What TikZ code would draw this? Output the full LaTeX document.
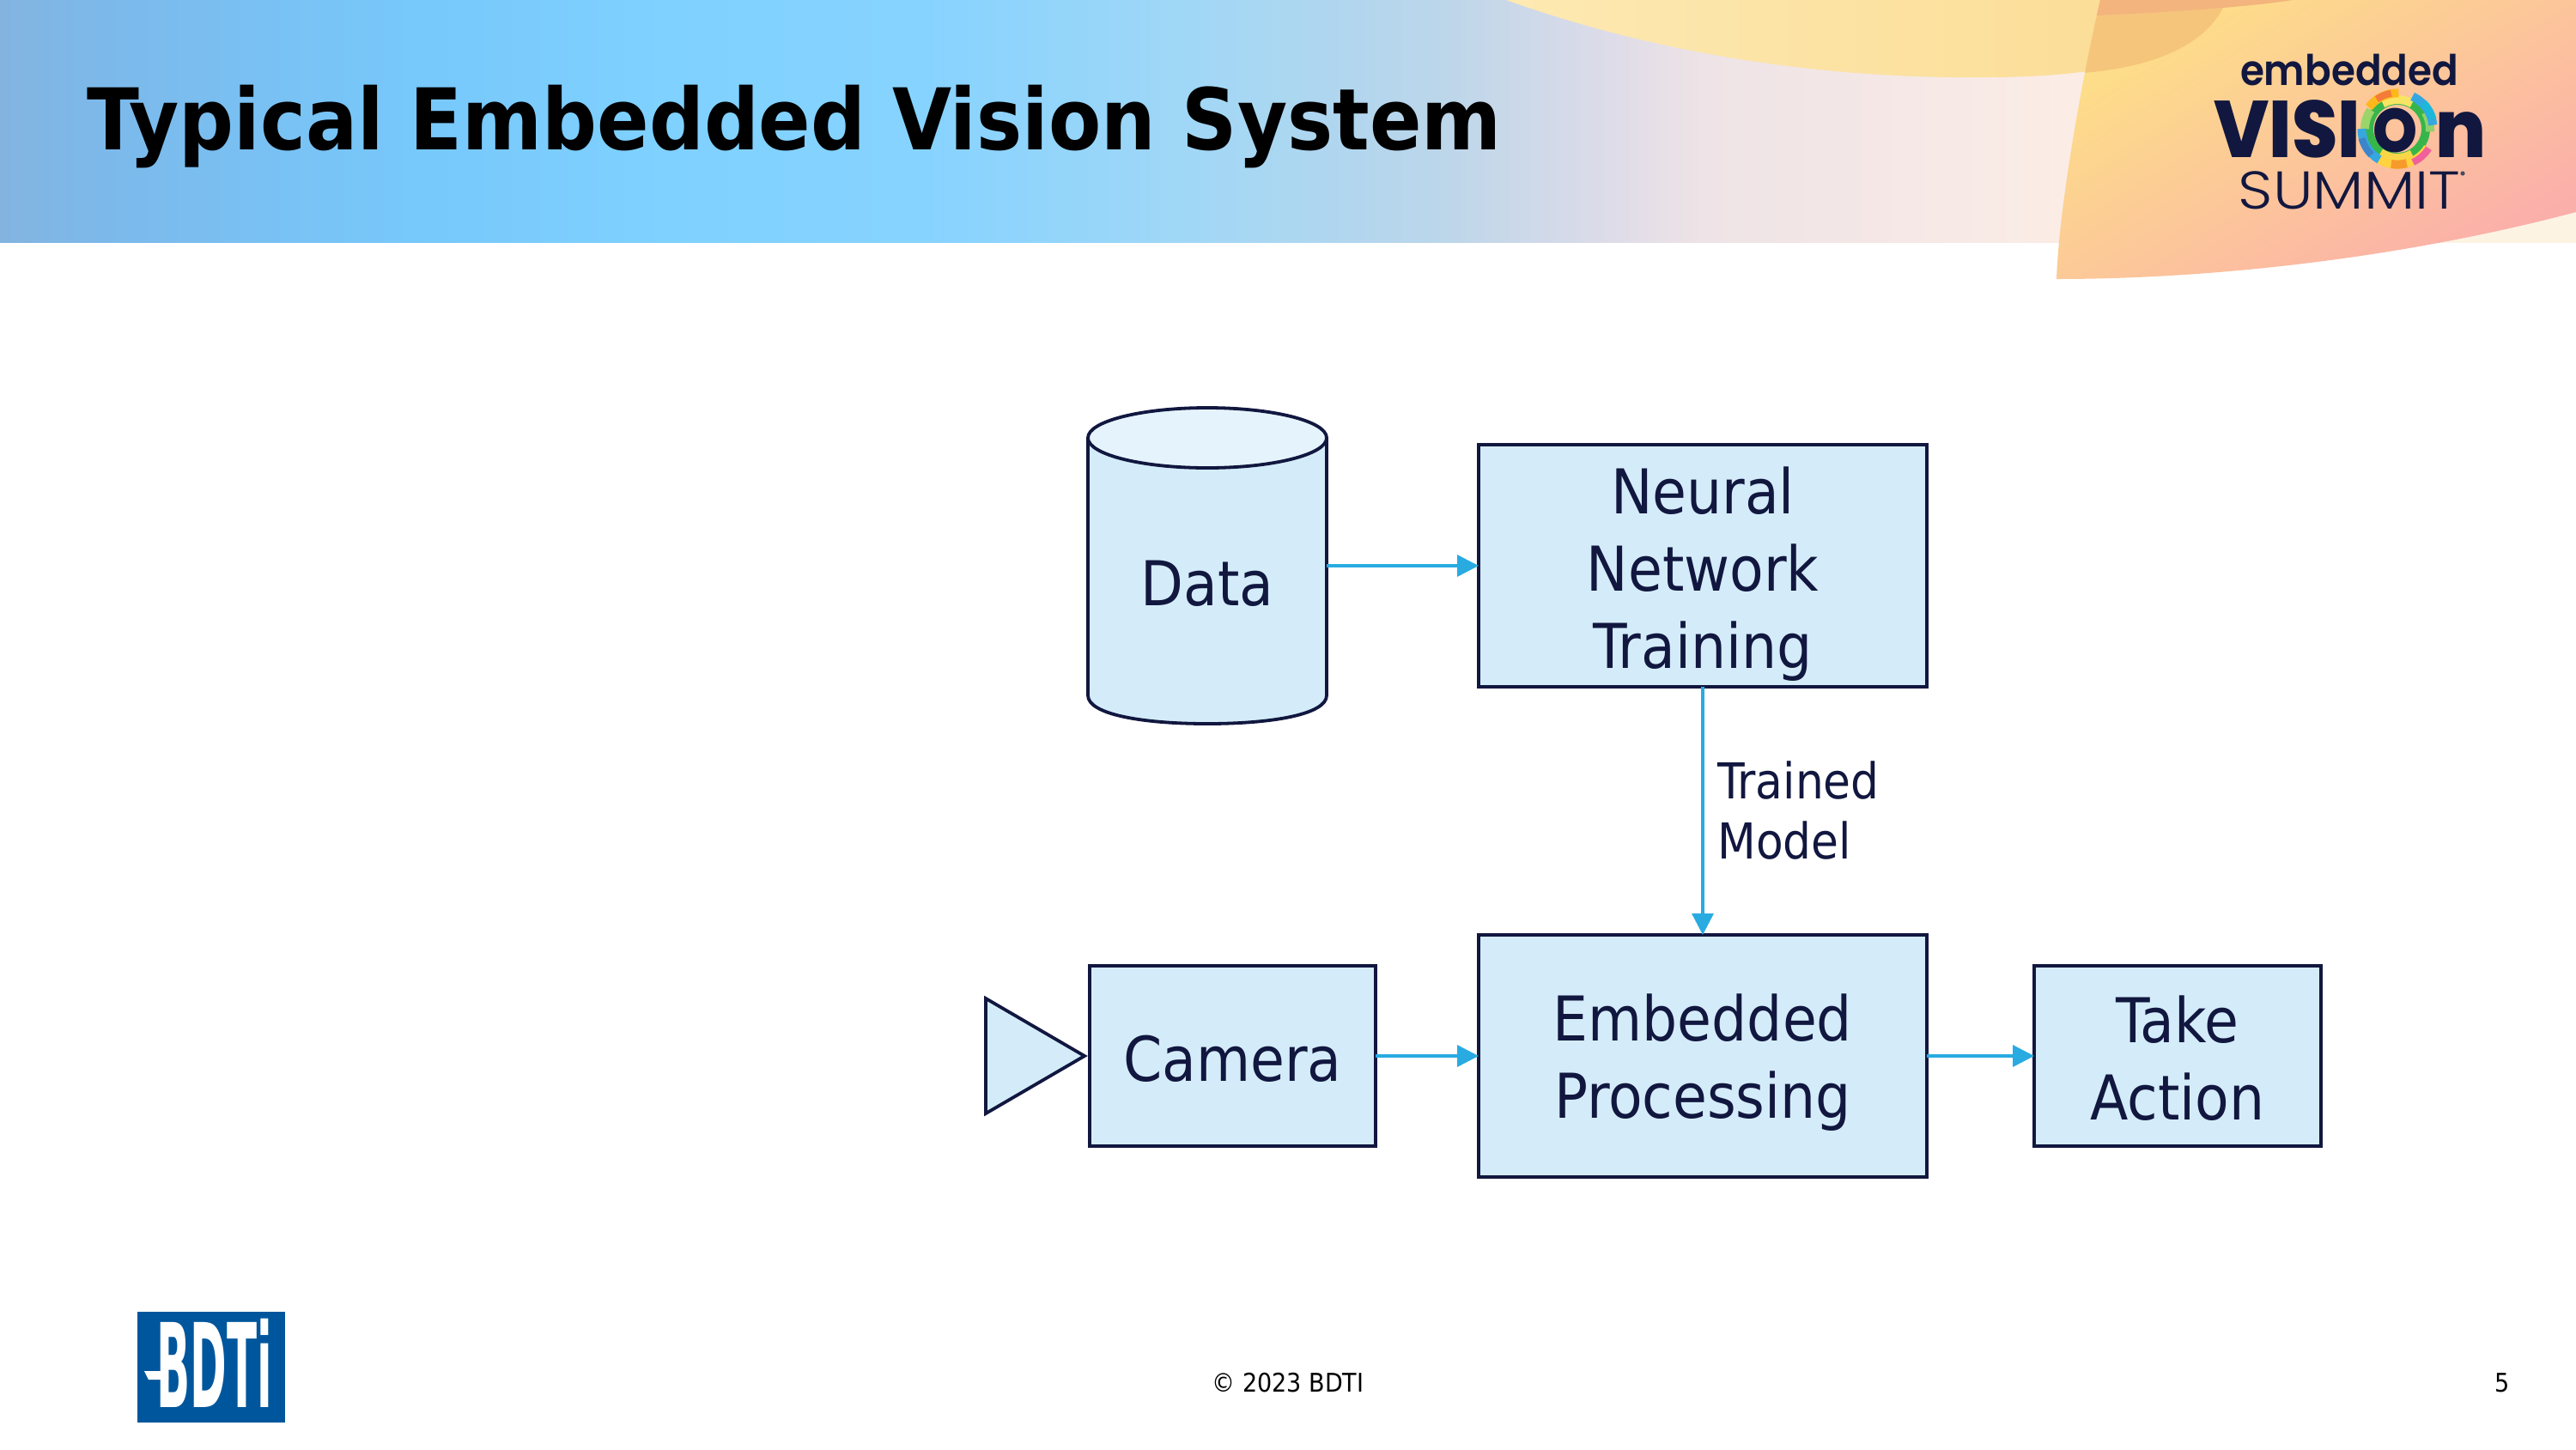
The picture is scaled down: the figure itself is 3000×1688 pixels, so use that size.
\documentclass[tikz,border=0pt]{standalone}
\usepackage{fontspec}
\setmainfont{DejaVu Sans Condensed}
\newfontfamily\logoB{Poppins}[UprightFont=*-SemiBold,BoldFont=*-ExtraBold]
\newfontfamily\logoL{Poppins}[UprightFont=*-Light]
\usetikzlibrary{arrows.meta}
\definecolor{ink}{HTML}{11173F}
\definecolor{boxfill}{HTML}{D4ECF9}
\definecolor{capfill}{HTML}{E5F4FC}
\definecolor{flowc}{HTML}{29ABE2}
\definecolor{bdtiblue}{HTML}{00569C}
\definecolor{yelA}{HTML}{FDE9B2}
\definecolor{yelB}{HTML}{FBDB92}
\definecolor{oraA}{HTML}{FDDF88}
\definecolor{oraB}{HTML}{FBAFAA}
\definecolor{overA}{HTML}{F5C57C}
\definecolor{overB}{HTML}{F3B47D}
\pgfdeclarehorizontalshading{hdr}{100bp}{
 rgb(0bp)=(.514,.706,.878);
 rgb(25bp)=(.514,.706,.878);
 rgb(27bp)=(.486,.725,.918);
 rgb(33bp)=(.467,.784,.984);
 rgb(38bp)=(.498,.820,1);
 rgb(43bp)=(.529,.827,1);
 rgb(48bp)=(.627,.843,.965);
 rgb(53bp)=(.737,.839,.918);
 rgb(56bp)=(.859,.859,.91);
 rgb(58bp)=(.933,.89,.902);
 rgb(62bp)=(.961,.91,.902);
 rgb(65bp)=(.984,.925,.898);
 rgb(70bp)=(.992,.953,.89);
 rgb(100bp)=(.992,.953,.89)}
\newcommand{\push}[1]{\rule{0pt}{#1}}
\tikzset{
 block/.style={draw=ink,fill=boxfill,line width=1.9pt,rectangle,outer sep=0pt,text=ink,align=center,
   font=\fontsize{36}{45}\selectfont,inner sep=0pt},
 flow/.style={draw=flowc,line width=1.75pt,-{Triangle[length=12.5pt,width=12.5pt]}},
 shapeline/.style={draw=ink,line width=1.9pt,line join=miter},
 ringseg/.style={line cap=butt},
}
\begin{document}
\begin{tikzpicture}[x=0.5pt,y=-0.5pt]
\useasboundingbox (0,0) rectangle (3000,1688);
\fill[white] (0,0) rectangle (3000,1688);
% header
\shade[shading=hdr] (0,0) rectangle (3000,282);
\shade[left color=yelA,right color=yelB]
 (1754,0) .. controls (1950,70) and (2150,92) .. (2313,90) .. controls (2470,90) and (2570,60) .. (2593,0) -- cycle;
\shade[top color=oraA,bottom color=oraB,shading angle=32]
 (2446,0) .. controls (2425,90) and (2398,240) .. (2395,325) .. controls (2580,325) and (2800,300) .. (3000,247) -- (3000,0) -- cycle;
\begin{scope}
 \clip (2446,0) .. controls (2425,90) and (2398,240) .. (2395,325) -- (3000,325) -- (3000,0) -- cycle;
 \fill[overA] (2400,0) -- (2400,88) -- (2425,85) .. controls (2490,80) and (2570,60) .. (2593,0) -- cycle;
 \fill[overB] (2440,0) -- (2670,0) .. controls (2620,8) and (2530,14) .. (2440,18) -- cycle;
\end{scope}
\node[anchor=base west,font=\fontsize{49.6}{52}\selectfont\bfseries,text=black,inner sep=0pt] (title) at (101,174) {Typical Embedded Vision System};
% logo ring
\begin{scope}[shift={(2792,150)},y=0.5pt]
 \foreach \a/\b/\c/\r/\w in {
   0/360/38B54A/16.5/5,
   60/120/F7E463/17/5, 235/300/F9D648/17/5,
   145/180/9BD56A/19/5, -5/30/8ED26B/19/5,
   88/143/FFB81C/20.8/5, 100/125/F47B3A/21/4,
   6/65/35A7E0/20.8/5, 15/45/1CB8DC/21.5/4,
   180/240/35A7E0/20.8/5, 195/225/3E84C9/21.5/4,
   -120/-32/FFD23F/20.8/5, -65/-32/F0609A/21.5/4, -100/-75/F79A2C/20.8/5}
 { \definecolor{segc}{HTML}{\c}
   \draw[ringseg,draw=segc,line width=\w pt] ([shift={(\a:\r pt)}]0,0) arc[start angle=\a,end angle=\b,radius=\r pt]; }
\end{scope}
\node[anchor=base,font=\logoB\fontsize{24.6}{26}\selectfont,text=ink,inner sep=0pt,xscale=.92] (logo1) at (2736,99) {embedded};
\node[anchor=base west,font=\logoB\bfseries\fontsize{41}{42}\selectfont,text=ink,inner sep=0pt,xscale=1.05,yscale=1.14] (logo2) at (2578,183) {VISI\kern7pt\raisebox{2.6pt}{\fontsize{31.5}{32}\selectfont O}\kern10pt n};
\node[anchor=base,font=\logoL\fontsize{31}{33}\selectfont,text=ink,inner sep=0pt,xscale=1.137] (logo3) at (2736,243) {SUMMIT};
\fill[ink!50!gray] (2868,202) circle (1.3pt);
% diagram
\path[shapeline,fill=boxfill] (1267,510) -- (1267,810) .. controls (1267,832) and (1330,843) .. (1406,843) .. controls (1482,843) and (1545,832) .. (1545,810) -- (1545,510);
\draw[shapeline,fill=capfill] (1406,510) ellipse [x radius=139,y radius=35];
\node[minimum width=139pt,minimum height=184pt,inner sep=0pt,outer sep=0pt] (data) at (1406,659) {};
\node[text=ink,font=\fontsize{36}{45}\selectfont,inner sep=0pt] (datalabel) at (1406,680) {Data};
\node[block,minimum width=261pt,minimum height=141pt] (train) at (1983,659) {\push{37pt}Neural\\Network\\Training};
\node[block,minimum width=261pt,minimum height=141pt] (proc) at (1983,1230) {\push{35pt}Embedded\\Processing};
\node[block,minimum width=166.5pt,minimum height=105pt] (cam) at (1435.5,1230) {\push{30pt}Camera};
\node[block,minimum width=167pt,minimum height=105pt] (act) at (2536,1230) {\push{30pt}Take\\Action};
\draw[shapeline,fill=boxfill] (1148,1163) -- (1263,1230) -- (1148,1297) -- cycle;
\draw[flow] (data.east) -- (train.west);
\draw[flow] (train.south) -- (proc.north);
\draw[flow] (cam.east) -- (proc.west);
\draw[flow] (proc.east) -- (act.west);
\node[anchor=west,align=left,text=ink,font=\fontsize{28.8}{35}\selectfont,inner sep=0pt] (tm) at (2000,944) {Trained\\Model};
% footer
\fill[bdtiblue] (160,1528) rectangle (332,1657);
\fill[white] (168,1597) -- (196,1597) -- (196,1607) -- (173,1607) -- cycle;
\node[anchor=base,font=\fontsize{68}{70}\selectfont\bfseries,text=white,xscale=.42,inner sep=0pt] (bdti) at (250,1639) {BDTi};
\node[font=\fontsize{15}{17}\selectfont,text=black,inner sep=0pt] (copy) at (1500,1611) {© 2023 BDTI};
\node[font=\fontsize{15}{17}\selectfont,text=black,inner sep=0pt] (page) at (2914,1611) {5};
\end{tikzpicture}
\end{document}
